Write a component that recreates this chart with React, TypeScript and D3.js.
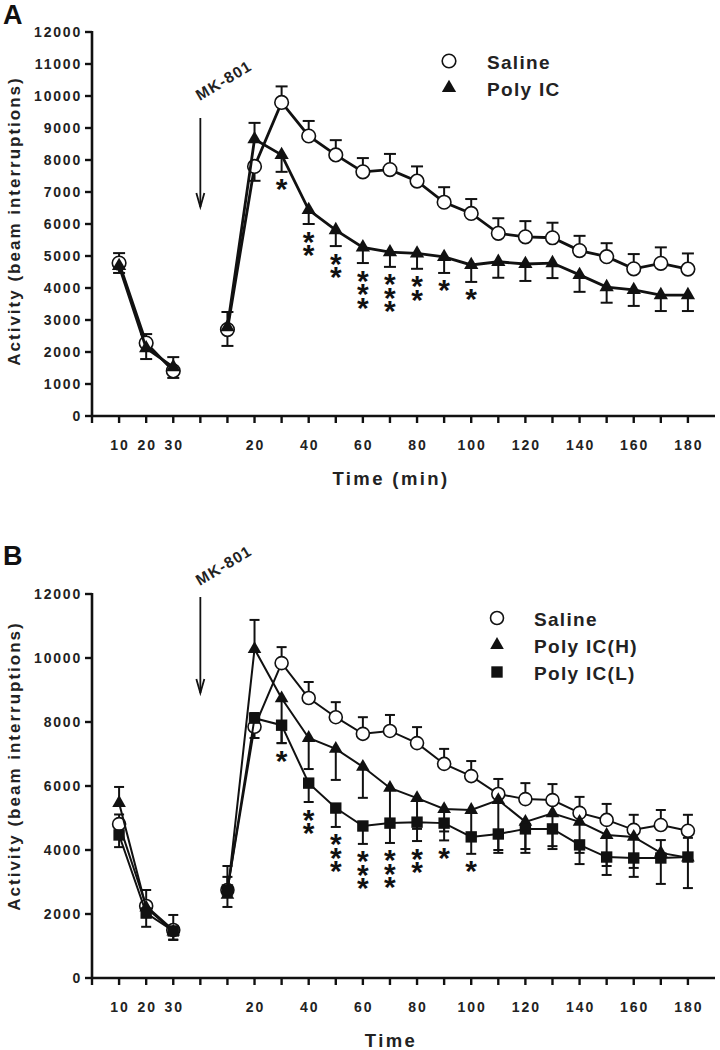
import React, { useEffect, useRef } from 'react';
import * as d3 from 'd3';

// time points: 3 before the injection, 18 after it
const preTimes = [10, 20, 30];
const postTimes = [10, 20, 30, 40, 50, 60, 70, 80, 90, 100, 110, 120, 130, 140, 150, 160, 170, 180];
const postTickLabels = [20, 40, 60, 80, 100, 120, 140, 160, 180];

const yTicksA = [0, 1000, 2000, 3000, 4000, 5000, 6000, 7000, 8000, 9000, 10000, 11000, 12000];
const yTicksB = [0, 2000, 4000, 6000, 8000, 10000, 12000];

// panel A (errors: + drawn up, - drawn down)
const salineA = [4780, 2280, 1410, 2700, 7800, 9800, 8750, 8160, 7630, 7700, 7340, 6680, 6330, 5710, 5600, 5570, 5170, 4980, 4600, 4770, 4590];
const salineAErr = [310, 280, -220, -510, -450, 500, 470, 460, 430, 490, 460, 470, 450, 470, 490, 470, 460, 420, 460, 500, 490];
const polyA = [4690, 2120, 1530, 2780, 8650, 8160, 6440, 5810, 5270, 5120, 5080, 4970, 4720, 4820, 4750, 4780, 4410, 4030, 3940, 3780, 3780];
const polyAErr = [-220, -340, 310, 470, 510, -530, -440, -500, -490, -460, -480, -500, -530, -500, -530, -470, -530, -490, -500, -500, -500];
const starsA = [0, 0, 0, 0, 0, 1, 2, 2, 3, 3, 2, 1, 1, 0, 0, 0, 0, 0, 0, 0, 0];

// panel B
const salineB = [4810, 2250, 1500, 2750, 7850, 9840, 8750, 8150, 7630, 7720, 7340, 6690, 6310, 5750, 5590, 5560, 5160, 4940, 4630, 4780, 4600];
const salineBErr = [300, 500, 470, 410, -350, 500, 500, 470, 520, 500, 500, 470, 470, 470, 500, 500, 500, 500, 470, 470, 500];
const polyHB = [5470, 2200, 1450, 2600, 10280, 8740, 7500, 7160, 6600, 5940, 5620, 5280, 5250, 5560, 4880, 5150, 4880, 4470, 4410, 3910, 3760];
const polyHBErr = [500, -300, -250, -380, 910, -1400, -970, -970, -970, -1100, -960, -700, -800, -1650, -850, -1030, -970, -970, -970, 400, 620];
const polyLB = [4470, 2030, 1470, 2750, 8120, 7900, 6090, 5310, 4750, 4840, 4870, 4840, 4410, 4500, 4660, 4660, 4160, 3780, 3750, 3750, 3780];
const polyLBErr = [-380, -430, -280, 750, 160, -560, -590, -590, -560, -620, -590, -540, -530, -500, -750, -630, -600, -560, -590, -810, -970];
const starsB = [0, 0, 0, 0, 0, 1, 2, 3, 3, 3, 2, 1, 1, 0, 0, 0, 0, 0, 0, 0, 0];

const FONT = '"Liberation Sans", Arial, Helvetica, sans-serif';

type Shape = 'circle' | 'triangle' | 'square';
type Series = { name: string; values: number[]; errs: number[]; shape: Shape };

type PanelOpts = {
  label: string;
  labelY: number;
  top: number;
  bottom: number;
  yTicks: number[];
  series: Series[];
  stars: number[];
  starSeries: number;
  xTitle: string;
  mk: [number, number];
  arrow: [number, number];
  legend: { x: number; y: number; textX: number };
  yTitleY: number;
  lineW: number;
  capW: number;
  markR: number;
};

// slot on the broken time axis: pre points at 1..3, post points at 5..22
const slotOf = (i: number) => (i < preTimes.length ? i + 1 : i - preTimes.length + 5);

function drawMarker(g: any, shape: Shape, x: number, y: number, r: number) {
  if (shape === 'circle') {
    g.append('circle').attr('cx', x).attr('cy', y).attr('r', r)
      .attr('fill', '#fff').attr('stroke', '#111').attr('stroke-width', 1.6);
  } else if (shape === 'triangle') {
    const side = r * 2.1;
    g.append('path')
      .attr('d', d3.symbol().type(d3.symbolTriangle).size((Math.sqrt(3) / 4) * side * side)())
      .attr('transform', `translate(${x},${y})`)
      .attr('fill', '#111');
  } else {
    const s = r * 1.75;
    g.append('rect').attr('x', x - s / 2).attr('y', y - s / 2).attr('width', s).attr('height', s)
      .attr('fill', '#111');
  }
}

function drawPanel(svg: any, o: PanelOpts) {
  const x = d3.scaleLinear().domain([0, 23]).range([92, 715]);
  const y = d3.scaleLinear().domain([0, 12000]).range([o.bottom, o.top]);
  const g = svg.append('g');

  // axes
  g.append('line').attr('x1', x(0)).attr('x2', x(0)).attr('y1', o.top - 1).attr('y2', o.bottom)
    .attr('stroke', '#111').attr('stroke-width', 2.6);
  g.append('line').attr('x1', x(0) - 1).attr('x2', x(23)).attr('y1', o.bottom).attr('y2', o.bottom)
    .attr('stroke', '#111').attr('stroke-width', 2.6);

  o.yTicks.forEach((t) => {
    g.append('line').attr('x1', x(0) - 7).attr('x2', x(0)).attr('y1', y(t)).attr('y2', y(t))
      .attr('stroke', '#111').attr('stroke-width', 2.4);
    g.append('text').attr('x', 82).attr('y', y(t) + 5).attr('text-anchor', 'end')
      .style('font', `bold 14px ${FONT}`).style('letter-spacing', '1.8px').attr('fill', '#222')
      .text(t);
  });
  d3.range(0, 23).forEach((s) => {
    g.append('line').attr('x1', x(s)).attr('x2', x(s)).attr('y1', o.bottom).attr('y2', o.bottom + 7)
      .attr('stroke', '#111').attr('stroke-width', 2.4);
  });
  const xLabels: [number, number][] = [
    ...preTimes.map((t, i) => [i + 1, t] as [number, number]),
    ...postTickLabels.map((t) => [4 + t / 10, t] as [number, number]),
  ];
  xLabels.forEach(([s, t]) => {
    g.append('text').attr('x', x(s) + 1).attr('y', o.bottom + 34).attr('text-anchor', 'middle')
      .style('font', `bold 14px ${FONT}`).style('letter-spacing', '2px').attr('fill', '#222')
      .text(t);
  });

  // titles
  g.append('text').attr('x', 391).attr('y', o.bottom + 69).attr('text-anchor', 'middle')
    .style('font', `bold 18.5px ${FONT}`).style('letter-spacing', '2.4px').attr('fill', '#222')
    .text(o.xTitle);
  g.append('text').attr('transform', `translate(20,${o.yTitleY}) rotate(-90)`).attr('text-anchor', 'middle')
    .style('font', `bold 17px ${FONT}`).style('letter-spacing', '2px').attr('fill', '#222')
    .text('Activity (beam interruptions)');
  g.append('text').attr('x', 3).attr('y', o.labelY)
    .style('font', `bold 27px ${FONT}`).attr('fill', '#111').text(o.label);

  // MK-801 injection marker
  g.append('text').attr('transform', `translate(${o.mk[0]},${o.mk[1]}) rotate(-31)`).attr('text-anchor', 'middle')
    .style('font', `bold 15.5px ${FONT}`).style('letter-spacing', '1.2px').attr('fill', '#222')
    .text('MK-801');
  const ax = x(4);
  g.append('line').attr('x1', ax).attr('x2', ax).attr('y1', o.arrow[0]).attr('y2', o.arrow[1])
    .attr('stroke', '#111').attr('stroke-width', 1.8);
  g.append('path').attr('d', `M${ax - 4},${o.arrow[1] - 14} L${ax},${o.arrow[1]} L${ax + 4},${o.arrow[1] - 14}`)
    .attr('fill', 'none').attr('stroke', '#111').attr('stroke-width', 1.8);

  const line = d3.line<number>()
    .x((_, i) => x(slotOf(i)))
    .y((d) => y(d));

  o.series.forEach((s) => {
    const pre = s.values.slice(0, preTimes.length);
    const post = s.values.slice(preTimes.length);
    g.append('path').attr('d', line(pre)).attr('fill', 'none').attr('stroke', '#111').attr('stroke-width', o.lineW);
    g.append('path').attr('d', d3.line<number>().x((_, i) => x(i + 5)).y((d) => y(d))(post))
      .attr('fill', 'none').attr('stroke', '#111').attr('stroke-width', o.lineW);
    s.values.forEach((v, i) => {
      const px = x(slotOf(i));
      const e = y(v + s.errs[i]);
      g.append('line').attr('x1', px).attr('x2', px).attr('y1', y(v)).attr('y2', e)
        .attr('stroke', '#111').attr('stroke-width', 2);
      g.append('line').attr('x1', px - o.capW / 2).attr('x2', px + o.capW / 2).attr('y1', e).attr('y2', e)
        .attr('stroke', '#111').attr('stroke-width', 2);
    });
    s.values.forEach((v, i) => drawMarker(g, s.shape, x(slotOf(i)), y(v), o.markR));
  });

  // significance asterisks under the treated group, one stacked text per time point
  const ref = o.series[o.starSeries];
  o.stars.forEach((n, i) => {
    if (!n) return;
    const v = ref.values[i];
    const low = y(Math.min(v, v + ref.errs[i]));
    const px = x(slotOf(i));
    const t = g.append('text').attr('text-anchor', 'middle')
      .style('font', `bold 30px ${FONT}`).attr('fill', '#111');
    d3.range(n).forEach((k) => {
      t.append('tspan').attr('x', px).attr('y', low + 12 + k * 13.5 + 15.5).text('*');
    });
  });

  // legend
  o.series.forEach((s, i) => {
    const ly = o.legend.y + i * 27;
    drawMarker(g, s.shape, o.legend.x, ly, o.markR);
    g.append('text').attr('x', o.legend.textX).attr('y', ly + 8)
      .style('font', `bold 19px ${FONT}`).style('letter-spacing', '1.3px').attr('fill', '#222')
      .text(s.name);
  });
}

export default function App() {
  const ref = useRef<SVGSVGElement>(null);

  useEffect(() => {
    const svg = d3.select(ref.current);
    svg.selectAll('*').remove();

    drawPanel(svg, {
      label: 'A', labelY: 24, top: 32, bottom: 416, yTicks: yTicksA,
      series: [
        { name: 'Saline', values: salineA, errs: salineAErr, shape: 'circle' },
        { name: 'Poly IC', values: polyA, errs: polyAErr, shape: 'triangle' },
      ],
      stars: starsA, starSeries: 1, xTitle: 'Time (min)',
      mk: [226.5, 85], arrow: [118, 207],
      legend: { x: 449, y: 61, textX: 487 },
      yTitleY: 221, lineW: 2.8, capW: 12, markR: 6.8,
    });

    drawPanel(svg, {
      label: 'B', labelY: 565, top: 594, bottom: 978, yTicks: yTicksB,
      series: [
        { name: 'Saline', values: salineB, errs: salineBErr, shape: 'circle' },
        { name: 'Poly IC(H)', values: polyHB, errs: polyHBErr, shape: 'triangle' },
        { name: 'Poly IC(L)', values: polyLB, errs: polyLBErr, shape: 'square' },
      ],
      stars: starsB, starSeries: 2, xTitle: 'Time',
      mk: [226.5, 570], arrow: [597, 693],
      legend: { x: 497, y: 618, textX: 534 },
      yTitleY: 766, lineW: 2, capW: 10, markR: 6.5,
    });
  }, []);

  return (
    <svg ref={ref} width={720} height={1050}
      style={{ position: 'absolute', left: 0, top: 0, background: '#fff' }} />
  );
}
